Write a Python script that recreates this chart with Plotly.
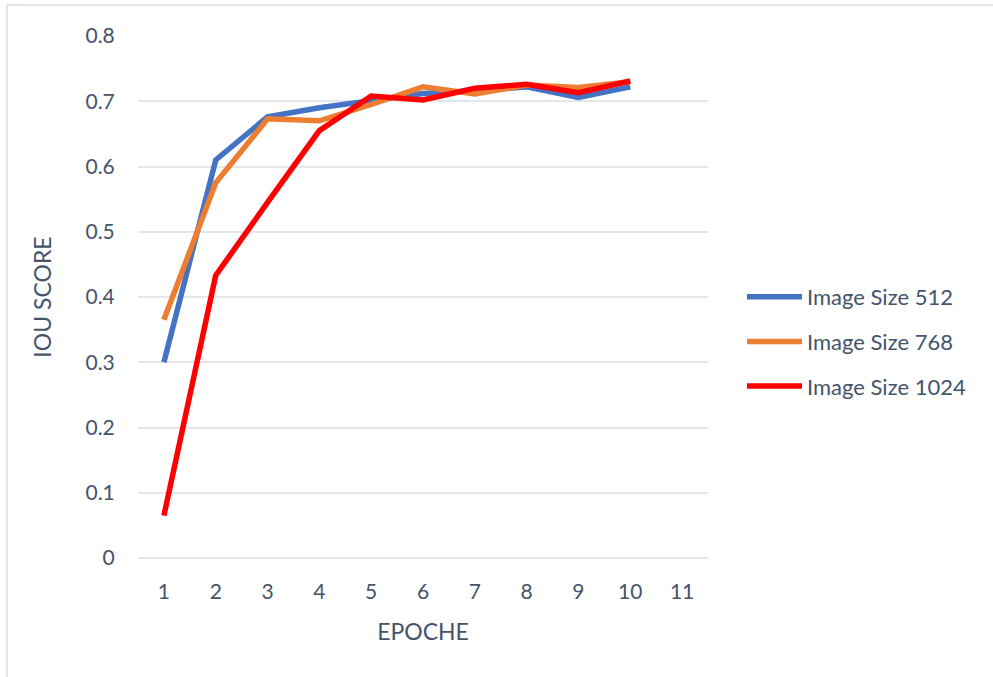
import plotly.graph_objects as go

# IoU score per training epoch for three input image sizes
epochs = [1, 2, 3, 4, 5, 6, 7, 8, 9, 10]
iou_512 = [0.300, 0.610, 0.676, 0.690, 0.701, 0.712, 0.716, 0.722, 0.706, 0.722]
iou_768 = [0.365, 0.575, 0.673, 0.670, 0.695, 0.722, 0.711, 0.725, 0.721, 0.730]
iou_1024 = [0.065, 0.433, 0.545, 0.655, 0.708, 0.702, 0.720, 0.726, 0.713, 0.731]
x_ticks = [1, 2, 3, 4, 5, 6, 7, 8, 9, 10, 11]
y_ticks = [0, 0.1, 0.2, 0.3, 0.4, 0.5, 0.6, 0.7, 0.8]

W, H = 993, 677
L, R, T, B = 138, 285, 36, 119
TEXT = "#44546A"
GRID = "#E3E6EA"
FONT = "Lato, Calibri, Carlito, sans-serif"

series = [
    ("Image Size 512", iou_512, "#4472C4"),
    ("Image Size 768", iou_768, "#ED7D31"),
    ("Image Size 1024", iou_1024, "#FF0000"),
]

fig = go.Figure()
for i, (name, vals, color) in enumerate(series):
    fig.add_trace(go.Scatter(
        x=epochs, y=vals, name=name, mode="lines",
        line=dict(color=color, width=5.5),
        legendgroup=str(i),
    ))


def px_x(p):
    return (p - L) / (W - L - R)


def px_y(p):
    return 1 - (p - T) / (H - T - B)


# thin frame around the chart area (top and left edges visible)
frame = dict(color="#E2E5EA", width=2)
fig.add_shape(type="line", xref="paper", yref="paper",
              x0=px_x(7), x1=px_x(1000), y0=px_y(5), y1=px_y(5), line=frame)
fig.add_shape(type="line", xref="paper", yref="paper",
              x0=px_x(7), x1=px_x(7), y0=px_y(5), y1=px_y(700), line=frame)

fig.update_layout(
    width=W, height=H,
    margin=dict(l=L, r=R, t=T, b=B),
    paper_bgcolor="white", plot_bgcolor="white",
    font=dict(family=FONT, color=TEXT, size=21),
    showlegend=True,
    legend=dict(
        x=px_x(742), y=px_y(276), xanchor="left", yanchor="top",
        font=dict(size=22, color=TEXT),
        traceorder="grouped", tracegroupgap=13,
        itemwidth=55,
        bgcolor="rgba(0,0,0,0)",
    ),
    xaxis=dict(
        range=[0.5, 11.5], tickvals=x_ticks, ticktext=[str(v) for v in x_ticks],
        showgrid=False, zeroline=False, showline=False,
        ticks="outside", ticklen=15, tickcolor="rgba(0,0,0,0)",
        tickfont=dict(size=21, color=TEXT),
        title=dict(text="EPOCHE", font=dict(size=23, color=TEXT), standoff=21),
        fixedrange=True,
    ),
    yaxis=dict(
        range=[0, 0.8], tickvals=y_ticks, ticktext=["0", "0.1", "0.2", "0.3", "0.4", "0.5", "0.6", "0.7", "0.8"],
        showgrid=True, gridcolor=GRID, gridwidth=1.5,
        zeroline=True, zerolinecolor=GRID, zerolinewidth=1.5,
        showline=False,
        ticks="outside", ticklen=18, tickcolor="rgba(0,0,0,0)",
        tickfont=dict(size=21, color=TEXT),
        title=dict(text="IOU SCORE", font=dict(size=23, color=TEXT), standoff=27),
        fixedrange=True,
    ),
)

fig.write_html("out.html")
